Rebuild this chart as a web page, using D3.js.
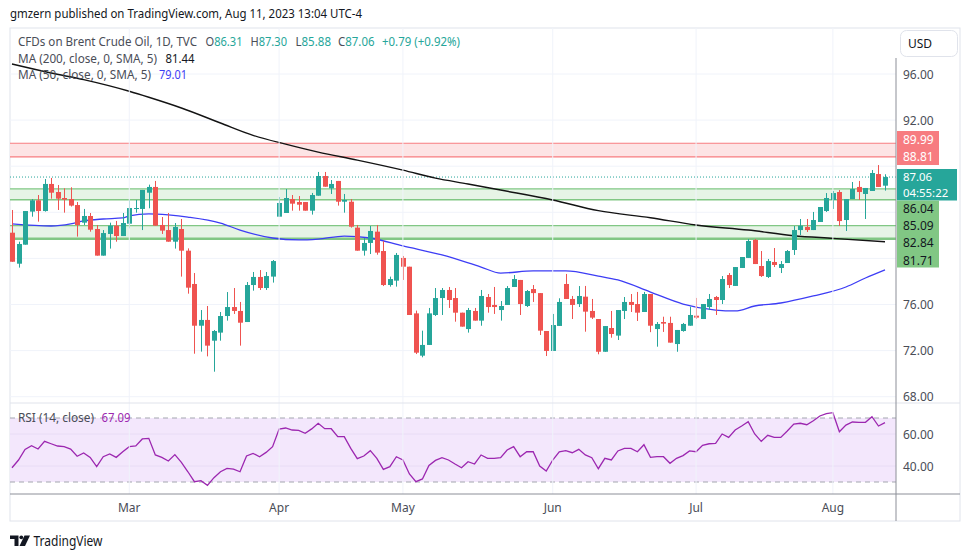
<!DOCTYPE html>
<html><head><meta charset="utf-8">
<script src="https://cdn.jsdelivr.net/npm/d3@7"></script>
<style>body{margin:0;background:#fff;} svg{display:block;font-family:'Noto Sans',sans-serif;}</style>
</head><body><svg id="c" width="970" height="557"></svg>
<script>
// ---------- DATA ----------
const opens  = [82.23,79.54,81.19,84.06,85.04,84.11,86.46,85.76,85.24,85.15,84.63,83.10,83.68,82.55,80.24,82.12,82.84,81.94,83.01,84.29,84.29,85.70,86.20,82.90,82.46,81.45,82.55,80.67,77.78,74.16,74.66,72.86,73.56,75.00,75.78,75.44,74.48,77.69,78.39,77.43,78.42,83.62,83.94,85.15,84.89,84.89,84.14,85.44,87.15,86.08,86.72,84.92,84.92,82.67,80.67,81.34,82.32,80.64,77.69,78.07,80.04,79.28,75.23,71.56,72.49,75.09,76.56,77.26,76.56,75.29,73.87,75.44,74.60,76.65,75.96,75.52,75.96,77.52,78.13,75.87,77.34,76.99,73.70,71.97,74.14,77.78,76.48,76.04,76.68,75.44,74.74,71.90,73.96,73.30,75.44,76.22,76.04,75.35,76.91,73.87,74.48,74.40,72.57,73.70,74.16,75.03,74.74,75.78,76.65,76.39,78.56,77.61,79.17,80.04,81.60,79.34,78.39,79.69,79.17,79.60,80.73,82.46,82.73,82.46,83.16,84.11,85.07,85.76,83.33,85.15,86.20,85.59,85.85,87.32,86.31];
const highs  = [84.20,81.45,84.11,85.15,85.50,86.89,86.98,86.37,86.08,86.17,84.89,84.29,83.94,82.90,82.46,83.10,83.25,83.94,85.07,85.07,85.94,86.40,86.72,83.59,83.94,83.07,83.42,80.87,78.73,75.52,75.87,73.79,75.35,77.08,77.43,76.22,77.95,78.82,78.99,78.82,79.86,85.33,86.02,85.50,85.41,84.89,85.68,87.50,87.50,86.80,86.72,85.59,85.15,82.90,81.77,82.81,82.90,81.51,78.42,80.47,80.21,79.28,75.47,73.73,75.70,77.43,77.43,77.52,77.43,75.29,75.70,75.70,77.26,76.91,77.52,76.30,77.60,78.56,78.13,77.26,77.69,76.99,73.70,75.18,76.54,78.65,76.74,77.60,77.61,76.48,74.74,74.13,75.44,75.52,76.65,76.91,77.09,77.09,76.91,74.48,74.94,74.94,73.79,74.40,75.81,76.57,76.04,76.91,76.74,78.47,78.73,79.25,80.12,81.68,81.68,80.64,79.95,80.90,79.77,80.73,82.81,83.42,83.42,84.03,84.46,85.67,85.85,85.93,85.15,86.63,86.72,86.11,87.67,88.10,87.30];
const lows   = [79.70,79.20,81.19,83.62,83.19,84.06,85.18,84.20,83.97,84.50,81.89,82.90,82.32,80.24,80.24,80.85,81.45,81.94,82.61,83.97,82.46,84.35,82.84,82.12,81.45,80.85,78.42,76.94,71.73,71.91,71.50,70.17,72.86,74.60,75.18,72.43,74.48,77.20,77.26,77.26,77.90,83.62,83.94,84.14,84.14,84.14,83.80,85.44,86.22,85.59,84.58,83.97,82.67,80.67,80.24,80.38,80.32,77.60,77.55,77.55,78.13,75.09,71.70,71.42,72.49,75.00,75.09,75.70,74.51,74.08,73.56,74.60,74.16,75.29,75.18,74.60,75.96,77.52,75.09,75.78,76.22,73.35,71.53,71.97,74.14,76.48,74.74,75.78,73.64,74.74,71.68,71.90,73.12,72.92,74.74,75.35,74.57,75.35,73.60,72.34,73.62,72.69,71.90,73.64,74.16,74.74,74.74,75.52,75.09,76.04,77.43,77.61,79.17,80.04,79.51,78.39,78.30,79.25,78.73,79.60,80.30,82.03,82.29,82.46,83.16,84.03,84.29,82.81,82.38,85.15,85.07,83.42,85.85,86.20,85.88];
const closes = [79.71,81.25,84.11,85.04,84.11,86.46,85.70,85.18,85.10,84.58,82.90,83.68,82.49,80.24,82.20,82.84,81.94,83.07,84.37,84.37,85.94,86.20,82.84,82.41,81.45,82.73,80.67,77.46,74.16,74.66,72.43,73.70,75.00,75.78,75.44,74.42,77.69,78.39,77.43,78.47,79.77,84.81,85.24,84.75,84.66,84.14,85.50,87.15,86.22,86.46,84.92,85.07,82.75,80.67,81.34,82.38,80.50,77.69,78.21,80.30,79.28,75.09,71.82,72.49,75.23,76.56,77.26,76.39,75.29,74.08,75.52,74.60,76.74,75.78,75.78,75.87,77.43,78.21,76.04,77.17,76.99,73.73,71.97,74.22,76.22,76.48,75.96,76.74,75.38,74.86,71.90,74.13,73.44,75.52,76.22,75.96,75.29,76.91,74.16,74.31,74.34,72.69,73.79,74.31,75.09,74.86,76.04,76.48,76.39,78.21,77.69,79.25,80.12,81.51,79.51,78.47,79.77,79.43,79.51,80.64,82.46,82.84,82.46,83.33,84.46,85.24,85.67,83.24,85.15,86.02,85.76,86.11,87.41,86.20,87.06];
const rsiValues = [38.9,43.75,50.4,52.7,50.6,55.4,53.9,52.5,52.1,50.6,46.1,48.1,45.4,39.6,45.8,47.5,45.4,48.9,52.1,52.5,56.9,57.3,46.9,45.4,43.1,47.1,42.3,36.4,30.2,30.8,27.9,32.7,36.4,38.5,38.1,36.4,46.25,47.9,45.8,48.5,52.1,63.1,63.75,62.5,62.3,60.4,63.2,66.7,63.3,63.3,58.3,58.3,51.0,44.6,46.25,49.6,44.8,37.9,39.6,45.8,43.75,35.0,30.2,31.9,40.4,43.5,45.2,43.75,41.25,38.9,42.7,41.25,46.9,44.8,44.8,45.2,50.0,52.1,45.8,48.9,48.9,40.0,36.9,43.75,48.9,49.6,48.3,50.4,46.9,45.2,38.3,44.8,43.75,49.4,51.0,51.0,48.9,53.3,45.4,45.8,45.8,41.7,44.8,46.5,49.4,48.9,52.9,53.9,54.2,60.0,57.9,62.5,65.0,67.7,60.0,55.4,59.2,57.9,57.9,61.9,66.25,66.7,65.8,68.3,71.25,72.7,73.3,61.4,65.6,67.5,67.3,67.3,70.8,65.0,67.09];
const ma200Idx = [0,6,11,18,21,26,32,37,42,47,53,60,65,70,75,83,90,98,105,113,120,126,134];
const ma200Val = [96.87,96.09,95.51,94.5,93.98,93.05,91.75,90.68,89.91,89.22,88.53,87.66,86.96,86.46,85.93,85.07,84.14,83.53,82.9,82.46,81.97,81.74,81.44];
const ma50Idx = [0,6,9,11,14,17,18,21,24,27,32,35,40,44,47,51,55,60,66,72,75,80,85,90,93,98,103,108,111,114,118,123,128,131,134];
const ma50Val = [82.99,82.81,82.99,83.25,83.42,83.51,83.68,83.86,83.77,83.59,83.07,82.46,81.77,81.6,81.68,81.94,81.77,81.08,80.3,79.25,78.73,78.91,78.91,78.47,78.13,77.08,76.04,75.52,75.44,75.87,76.13,76.74,77.52,78.3,79.01];
const priceGrid = [96,92,88,84,80,76,72,68];
const priceTickLabels = [96,92,76,72,68];
const rsiTicks = [60,40];
const monthLabels = ["Mar","Apr","May","Jun","Jul","Aug"];
const monthIdx = [18,41,60,83,105,126];
const redZone = [88.81,89.99];
const greenZones = [[85.09,86.04],[81.71,82.84]];
const lastPrice = 87.06;

// ---------- LAYOUT ----------
const svg = d3.select("#c");
const L = 10, R = 896, T = 28, B = 521, mainBot = 403, rsiBot = 494;
const x = d3.scaleLinear().domain([0,134]).range([12,885]);
const y = d3.scaleLinear().domain([68,96]).range([396.7,74]);
const yr = d3.scaleLinear().domain([30,70]).range([482,418]);
const up = "#26a69a", dn = "#ef5350";

const defs = svg.append("defs");
defs.append("clipPath").attr("id","cm").append("rect").attr("x",L).attr("y",T).attr("width",R-L).attr("height",mainBot-T);
defs.append("clipPath").attr("id","cr").append("rect").attr("x",L).attr("y",mainBot).attr("width",R-L).attr("height",rsiBot-mainBot);

function fitText(sel, w){ return sel.attr("textLength",w).attr("lengthAdjust","spacingAndGlyphs"); }

// title
fitText(svg.append("text").attr("x",10).attr("y",18).attr("font-size",12.5).attr("fill","#131722")
  .text("gmzern published on TradingView.com, Aug 11, 2023 13:04 UTC-4"), 352);

// frame
svg.append("rect").attr("x",L).attr("y",T).attr("width",960-L).attr("height",B-T).attr("fill","none").attr("stroke","#e0e3eb");

const gm = svg.append("g").attr("clip-path","url(#cm)");
const gr = svg.append("g").attr("clip-path","url(#cr)");

// grid
gm.selectAll(".hg").data(priceGrid).join("line").attr("x1",L).attr("x2",R)
  .attr("y1",d=>y(d)).attr("y2",d=>y(d)).attr("stroke","#f0f3fa");
svg.selectAll(".vg").data(monthIdx).join("line").attr("x1",d=>x(d)).attr("x2",d=>x(d))
  .attr("y1",T).attr("y2",rsiBot).attr("stroke","#f0f3fa");

// zones
gm.append("rect").attr("x",L).attr("width",R-L).attr("y",y(redZone[1])).attr("height",y(redZone[0])-y(redZone[1])).attr("fill","#fde4e5");
redZone.forEach(v=>gm.append("line").attr("x1",L).attr("x2",R).attr("y1",y(v)).attr("y2",y(v)).attr("stroke","#f77c80").attr("stroke-width",1.2));
greenZones.forEach(z=>{
  gm.append("rect").attr("x",L).attr("width",R-L).attr("y",y(z[1])).attr("height",y(z[0])-y(z[1])).attr("fill","#e6f4e6");
  gm.append("line").attr("x1",L).attr("x2",R).attr("y1",y(z[1])).attr("y2",y(z[1])).attr("stroke","#81c784").attr("stroke-width",1.3);
});
gm.append("line").attr("x1",L).attr("x2",R).attr("y1",y(greenZones[0][0])).attr("y2",y(greenZones[0][0])).attr("stroke","#81c784").attr("stroke-width",1.3);
gm.append("line").attr("x1",L).attr("x2",R).attr("y1",y(greenZones[1][0])).attr("y2",y(greenZones[1][0])).attr("stroke","#81c784").attr("stroke-width",2.5);

// last price dotted line
gm.append("line").attr("x1",L).attr("x2",R).attr("y1",y(lastPrice)).attr("y2",y(lastPrice)).attr("stroke",up).attr("stroke-dasharray","1,2");

// MA lines
const ma200 = ma200Idx.map((d,i)=>[d,ma200Val[i]]);
const ma50 = ma50Idx.map((d,i)=>[d,ma50Val[i]]);
const ln = d3.line().x(d=>x(d[0])).y(d=>y(d[1])).curve(d3.curveMonotoneX);
gm.append("path").attr("d",ln(ma200)).attr("fill","none").attr("stroke","#131313").attr("stroke-width",1.4);
gm.append("path").attr("d",ln(ma50)).attr("fill","none").attr("stroke","#3d3df5").attr("stroke-width",1.3);

// candles
const bars = d3.range(opens.length).map(i=>({i,o:opens[i],h:highs[i],l:lows[i],c:closes[i]}));
const cg = gm.selectAll(".cd").data(bars).join("g");
cg.append("line").attr("x1",d=>Math.round(x(d.i))+0.5).attr("x2",d=>Math.round(x(d.i))+0.5)
  .attr("y1",d=>y(d.h)).attr("y2",d=>y(d.l)).attr("stroke",d=>d.c>=d.o?up:dn).attr("stroke-width",1);
cg.append("rect").attr("x",d=>Math.round(x(d.i))-2).attr("width",5)
  .attr("y",d=>y(Math.max(d.o,d.c))).attr("height",d=>Math.max(1,Math.abs(y(d.o)-y(d.c))))
  .attr("fill",d=>d.c>=d.o?up:dn);

// header texts
const hdr = svg.append("g").attr("font-size",12).attr("fill","#4a4d57");
fitText(hdr.append("text").attr("x",18).attr("y",46).text("CFDs on Brent Crude Oil, 1D, TVC"), 179);
[["O","86.31",205.5,37],["H","87.30",250.5,36.5],["L","85.88",295.5,35.5],["C","87.06",338,36.5]].forEach(a=>{
  const t=hdr.append("text").attr("x",a[2]).attr("y",46);
  t.append("tspan").text(a[0]); t.append("tspan").attr("fill",up).text(a[1]);
  fitText(t, a[3]);
});
fitText(hdr.append("text").attr("x",382).attr("y",46).attr("fill",up).text("+0.79 (+0.92%)"), 78);
fitText(hdr.append("text").attr("x",18).attr("y",62.5).text("MA (200, close, 0, SMA, 5)"), 139);
fitText(hdr.append("text").attr("x",165.5).attr("y",62.5).attr("fill","#131722").text("81.44"), 29);
fitText(hdr.append("text").attr("x",18).attr("y",79).text("MA (50, close, 0, SMA, 5)"), 133);
fitText(hdr.append("text").attr("x",159).attr("y",79).attr("fill","#3d3df5").text("79.01"), 28);

// RSI pane
gr.append("rect").attr("x",L).attr("width",R-L).attr("y",yr(70)).attr("height",yr(30)-yr(70)).attr("fill","#f3e7fc");
gr.selectAll(".rg").data(rsiTicks).join("line").attr("x1",L).attr("x2",R).attr("y1",d=>yr(d)).attr("y2",d=>yr(d)).attr("stroke","#e8dcf5");
[70,30].forEach(v=>gr.append("line").attr("x1",L).attr("x2",R).attr("y1",yr(v)).attr("y2",yr(v)).attr("stroke","#a3a6af").attr("stroke-dasharray","5,4"));
const rl = d3.line().x((d,i)=>x(i)).y(d=>yr(d));
gr.append("path").attr("d",rl(rsiValues)).attr("fill","none").attr("stroke","#9c27b0").attr("stroke-width",1.3);
fitText(svg.append("text").attr("x",18).attr("y",422).attr("font-size",12).attr("fill","#4a4d57").text("RSI (14, close)"), 76);
fitText(svg.append("text").attr("x",101.5).attr("y",422).attr("font-size",12).attr("fill","#9c27b0").text(rsiValues[rsiValues.length-1].toFixed(2)), 29);

// separators / axes
svg.append("line").attr("x1",L).attr("x2",960).attr("y1",mainBot).attr("y2",mainBot).attr("stroke","#e0e3eb");
svg.append("line").attr("x1",L).attr("x2",960).attr("y1",rsiBot).attr("y2",rsiBot).attr("stroke","#8c8f98");
svg.append("line").attr("x1",R).attr("x2",R).attr("y1",58).attr("y2",B).attr("stroke","#8c8f98");

// price tick labels
svg.selectAll(".pt").data(priceTickLabels).join("text").attr("x",903).attr("y",d=>y(d)+4.5)
  .attr("font-size",12).attr("fill","#4a4d57").text(d=>d.toFixed(2));
svg.selectAll(".rt").data(rsiTicks).join("text").attr("x",903).attr("y",d=>yr(d)+4.5)
  .attr("font-size",12).attr("fill","#4a4d57").text(d=>d.toFixed(2));
// month labels
svg.selectAll(".ml").data(monthLabels).join("text").attr("x",(d,i)=>x(monthIdx[i])).attr("y",512)
  .attr("text-anchor","middle").attr("font-size",12).attr("fill","#4a4d57").text(d=>d);

// price labels on axis
svg.append("rect").attr("x",897).attr("y",131).attr("width",42).attr("height",34).attr("fill","#f77c80");
svg.append("text").attr("x",903).attr("y",143.5).attr("font-size",12).attr("fill","#fff").text(redZone[1].toFixed(2));
svg.append("text").attr("x",903).attr("y",160.5).attr("font-size",12).attr("fill","#fff").text(redZone[0].toFixed(2));
svg.append("rect").attr("x",897).attr("y",169).attr("width",60).attr("height",31.5).attr("fill",up);
svg.append("text").attr("x",903).attr("y",180.8).attr("font-size",11.4).attr("fill","#fff").text(lastPrice.toFixed(2));
svg.append("text").attr("x",903).attr("y",196.6).attr("font-size",11.4).attr("fill","#fff").text("04:55:22");
svg.append("rect").attr("x",897).attr("y",200.5).attr("width",42).attr("height",67).attr("fill","#81c784");
const gl = [greenZones[0][1],greenZones[0][0],greenZones[1][1],greenZones[1][0]];
const gy = [212.5,230,247,264.5];
gl.forEach((v,i)=>svg.append("text").attr("x",903).attr("y",gy[i]).attr("font-size",12).attr("fill","#131722").text(v.toFixed(2)));

// USD button
svg.append("rect").attr("x",900.5).attr("y",30.5).attr("width",57).attr("height",26).attr("rx",6).attr("fill","#fff").attr("stroke","#e0e3eb");
svg.append("text").attr("x",908).attr("y",48).attr("font-size",12).attr("fill","#131722").text("USD");

// TradingView logo
const lg = svg.append("g").attr("fill","#131722");
lg.append("path").attr("d","M10 535.5 H18.5 V546 H14.5 V539 H10 Z");
lg.append("circle").attr("cx",21.3).attr("cy",537.3).attr("r",1.9);
lg.append("path").attr("d","M24.5 535.5 H30 L25 546 H19.5 Z");
fitText(svg.append("text").attr("x",33.5).attr("y",545.5).attr("font-size",14).attr("fill","#131722").text("TradingView"), 69);
</script></body></html>
